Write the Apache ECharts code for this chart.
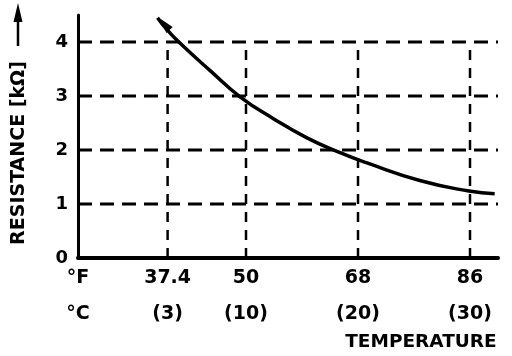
<!DOCTYPE html>
<html>
<head>
<meta charset="utf-8">
<script src="https://cdn.jsdelivr.net/npm/echarts@6/dist/echarts.min.js"></script>
<style>html,body{margin:0;padding:0;background:#fff;}#c{width:512px;height:356px;}</style>
</head>
<body>
<div id="c"></div>
<script>
// Curve: temperature (°C) vs resistance (kΩ)
const tempC      = [2.1, 2.9, 4.1, 6.8, 9.5, 12.45, 15.4, 18.4, 20.8, 25.6, 29.9, 32.2];
const resistance = [4.45, 4.24, 3.98, 3.47, 2.98, 2.58, 2.23, 1.95, 1.76, 1.43, 1.24, 1.19];
const arrowPoint = [2.9, 4.3];
// X tick positions (°C) and labels
const tickTempC = [-5, 3, 10, 20, 30];
const fLabels   = ['°F', '37.4', '50', '68', '86'];
const cLabels   = ['°C', '(3)', '(10)', '(20)', '(30)'];
// Y ticks
const yTicks = [0, 1, 2, 3, 4];
const hGridValues = [1, 2, 3, 4];
const vGridTemps = [3, 10, 20, 30];
const xMin = -5, xMax = 32.5, yMin = 0, yMax = 4.5, vGridTop = 4;

const FONT = 'DejaVu Sans';
const series = [];
hGridValues.forEach(v => series.push({
  type: 'line', data: [[xMin, v], [xMax, v]], symbol: 'none', silent: true, z: 1,
  lineStyle: { color: '#000', width: 3, type: [14, 8] }
}));
vGridTemps.forEach(t => series.push({
  type: 'line', data: [[t, yMin], [t, vGridTop]], symbol: 'none', silent: true, z: 1,
  lineStyle: { color: '#000', width: 2.5, type: [10, 8] }
}));
series.push({
  type: 'line', data: tempC.map((t, i) => [t, resistance[i]]), smooth: true,
  symbol: 'none', z: 3, lineStyle: { color: '#000', width: 3.5 }
});
series.push({
  type: 'scatter', data: [arrowPoint],
  symbol: 'path://M0,0L13.3,8.3L6.5,14.3Z', symbolSize: [13.3, 14.3], symbolKeepAspect: true,
  itemStyle: { color: '#000', opacity: 1 }, z: 4
});

const chart = echarts.init(document.getElementById('c'));
chart.setOption({
  animation: false,
  backgroundColor: '#fff',
  grid: { left: 78, right: 14, top: 15, bottom: 98 },
  xAxis: {
    type: 'value', min: xMin, max: xMax,
    splitLine: { show: false },
    axisTick: { show: false },
    axisLine: { lineStyle: { color: '#000', width: 4 } },
    axisLabel: {
      customValues: tickTempC,
      margin: 2,
      formatter: v => {
        const i = tickTempC.indexOf(v);
        return i < 0 ? '' : '{f|' + fLabels[i] + '}\n{c|' + cLabels[i] + '}';
      },
      rich: {
        f: { fontFamily: FONT, fontWeight: 'bold', fontSize: 19, lineHeight: 36, color: '#000' },
        c: { fontFamily: FONT, fontWeight: 'bold', fontSize: 19, lineHeight: 36, color: '#000' }
      }
    }
  },
  yAxis: {
    type: 'value', min: yMin, max: yMax,
    splitLine: { show: false },
    axisTick: { show: false },
    axisLine: { show: true, onZero: false, lineStyle: { color: '#000', width: 3 } },
    axisLabel: {
      customValues: yTicks, margin: 10,
      fontFamily: FONT, fontWeight: 'bold', fontSize: 18, color: '#000'
    }
  },
  graphic: [
    { type: 'text', x: 19, y: 153, rotation: Math.PI / 2,
      style: { text: 'RESISTANCE [kΩ]', fill: '#000', font: 'bold 19px "DejaVu Sans"', align: 'center', verticalAlign: 'middle' } },
    { type: 'line', shape: { x1: 18, y1: 46, x2: 18, y2: 16 }, style: { stroke: '#000', lineWidth: 2.5 } },
    { type: 'polygon', shape: { points: [[18, 3], [13.5, 22], [22.5, 22]] }, style: { fill: '#000' } },
    { type: 'text', x: 421, y: 342,
      style: { text: 'TEMPERATURE', fill: '#000', font: 'bold 18.5px "DejaVu Sans"', align: 'center', verticalAlign: 'middle' } }
  ],
  series: series
});
</script>
</body>
</html>
